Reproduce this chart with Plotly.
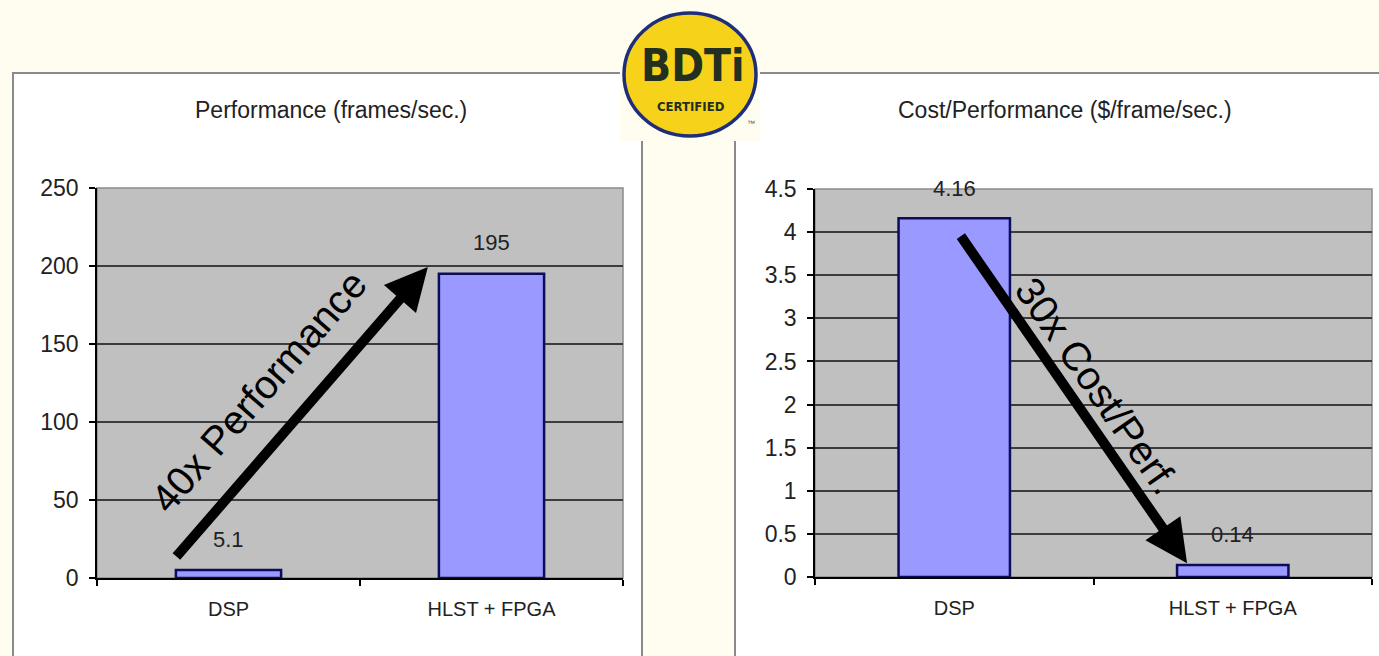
import plotly.graph_objects as go

W, H = 1379, 656

categories = ["DSP", "HLST + FPGA"]
performance = [5.1, 195]
cost_perf = [4.16, 0.14]
perf_ticks = [0, 50, 100, 150, 200, 250]
cost_ticks = [0, 0.5, 1, 1.5, 2, 2.5, 3, 3.5, 4, 4.5]
title_left = "Performance (frames/sec.)"
title_right = "Cost/Performance ($/frame/sec.)"
arrow_left_text = "40x Performance"
arrow_right_text = "30x Cost/Perf."

FONT = "Liberation Sans, Arial, sans-serif"
CREAM = "#FEFDF0"
BAR = "#9999FF"
BAR_LINE = "#0c0c5a"
PLOT_BG = "#C0C0C0"
TXT = "#222222"


def px_x(p):
    return p / W


def px_y(p):
    return 1 - p / H


fig = go.Figure()
fig.add_trace(go.Bar(x=categories, y=performance, xaxis="x", yaxis="y",
                     marker=dict(color=BAR, line=dict(color=BAR_LINE, width=2.5)),
                     width=0.4, showlegend=False, hoverinfo="skip"))
fig.add_trace(go.Bar(x=categories, y=cost_perf, xaxis="x2", yaxis="y2",
                     marker=dict(color=BAR, line=dict(color=BAR_LINE, width=2.5)),
                     width=0.4, showlegend=False, hoverinfo="skip"))

axis_common = dict(
    showline=True, linecolor="#000000", linewidth=1.5,
    ticks="outside", ticklen=6, tickcolor="#000000", tickwidth=1.5,
    tickfont=dict(family=FONT, size=23, color=TXT),
    zeroline=False, fixedrange=True, automargin=False,
)
xfont = dict(family=FONT, size=20, color=TXT)

fig.update_layout(
    width=W, height=H, autosize=False,
    margin=dict(l=0, r=0, t=0, b=0, pad=0),
    paper_bgcolor=CREAM, plot_bgcolor="rgba(0,0,0,0)",
    bargap=0.6,
    xaxis=dict(domain=[px_x(97), px_x(623)], anchor="y", type="category",
               tickson="boundaries", showgrid=False, ticklabelstandoff=12,
               **{**axis_common, "tickfont": xfont}),
    yaxis=dict(domain=[px_y(578), px_y(188)], anchor="x", range=[0, 250],
               tickvals=perf_ticks, showgrid=True, gridcolor="#3c3c3c", gridwidth=1.5,
               ticklabelstandoff=6, **axis_common),
    xaxis2=dict(domain=[px_x(815), px_x(1372)], anchor="y2", type="category",
                tickson="boundaries", showgrid=False, ticklabelstandoff=12,
                **{**axis_common, "tickfont": xfont}),
    yaxis2=dict(domain=[px_y(577), px_y(189)], anchor="x2", range=[0, 4.5],
                tickvals=cost_ticks, showgrid=True, gridcolor="#3c3c3c", gridwidth=1.5,
                ticklabelstandoff=6, **axis_common),
)

shapes = []
# panel frames
shapes.append(dict(type="rect", xref="paper", yref="paper", layer="below",
                   x0=px_x(13), x1=px_x(642), y0=-0.05, y1=px_y(73),
                   fillcolor="#FFFFFF", line=dict(color="#8a8a8a", width=2)))
shapes.append(dict(type="rect", xref="paper", yref="paper", layer="below",
                   x0=px_x(735), x1=1.05, y0=-0.05, y1=px_y(73),
                   fillcolor="#FFFFFF", line=dict(color="#8a8a8a", width=2)))
# logo backdrop and badge
shapes.append(dict(type="rect", xref="paper", yref="paper", layer="below",
                   x0=px_x(620), x1=px_x(760), y0=px_y(141), y1=1.02,
                   fillcolor=CREAM, line=dict(width=0)))
shapes.append(dict(type="circle", xref="paper", yref="paper", layer="below",
                   x0=px_x(624), x1=px_x(756), y0=px_y(136), y1=px_y(13),
                   fillcolor="#F6D21A", line=dict(color="#1E2E7A", width=3.5)))
# plot areas
for xr, yr in (("x domain", "y domain"), ("x2 domain", "y2 domain")):
    shapes.append(dict(type="rect", xref=xr, yref=yr, layer="below",
                       x0=0, x1=1, y0=0, y1=1,
                       fillcolor=PLOT_BG, line=dict(color="#8a8a8a", width=1.5)))
fig.update_layout(shapes=shapes)

ann = []
paper_txt = dict(xref="paper", yref="paper", showarrow=False,
                 xanchor="center", yanchor="middle")
# titles
ann.append(dict(**paper_txt, x=px_x(331), y=px_y(110), text=title_left,
                font=dict(family=FONT, size=23, color=TXT)))
ann.append(dict(**paper_txt, x=px_x(1065), y=px_y(110), text=title_right,
                font=dict(family=FONT, size=23, color=TXT)))
# data labels
for cat, v in zip(categories, performance):
    ann.append(dict(xref="x", yref="y", x=cat, y=v, text=f"{v:g}", yshift=31,
                    xanchor="center", yanchor="middle",
                    showarrow=False, font=dict(family=FONT, size=22, color=TXT)))
for cat, v in zip(categories, cost_perf):
    ann.append(dict(xref="x2", yref="y2", x=cat, y=v, text=f"{v:g}", yshift=30,
                    xanchor="center", yanchor="middle",
                    showarrow=False, font=dict(family=FONT, size=22, color=TXT)))
# arrows
ann.append(dict(xref="x", yref="y", axref="x", ayref="y",
                x=0.758, y=199.4, ax=-0.203, ay=12.8, text="",
                showarrow=True, arrowhead=2, arrowsize=0.85, arrowwidth=10,
                arrowcolor="#000000", standoff=0))
ann.append(dict(xref="x2", yref="y2", axref="x2", ayref="y2",
                x=0.836, y=0.16, ax=0.02, ay=3.97, text="",
                showarrow=True, arrowhead=2, arrowsize=0.85, arrowwidth=10,
                arrowcolor="#000000", standoff=0))
ann.append(dict(xref="x", yref="y", x=0.115, y=120, text=arrow_left_text,
                textangle=-49, showarrow=False, xanchor="center", yanchor="middle",
                font=dict(family=FONT, size=40, color="#000000")))
ann.append(dict(xref="x2", yref="y2", x=0.515, y=2.22, text=arrow_right_text,
                textangle=55, showarrow=False, xanchor="center", yanchor="middle",
                font=dict(family=FONT, size=40, color="#000000")))
# logo text
logo_font = "DejaVu Sans Condensed, Liberation Sans Narrow, Liberation Sans"
ann.append(dict(**paper_txt, x=px_x(693), y=px_y(66), text="<b>BDTi</b>",
                font=dict(family=logo_font, size=44, color="#23301f")))
ann.append(dict(**paper_txt, x=px_x(691), y=px_y(107), text="<b>CERTIFIED</b>",
                font=dict(family=logo_font, size=13, color="#23301f")))
ann.append(dict(**paper_txt, x=px_x(751), y=px_y(123), text="™",
                font=dict(family=FONT, size=8, color="#555555")))
fig.update_layout(annotations=ann)

fig.write_html("out.html", config={"displayModeBar": False})
